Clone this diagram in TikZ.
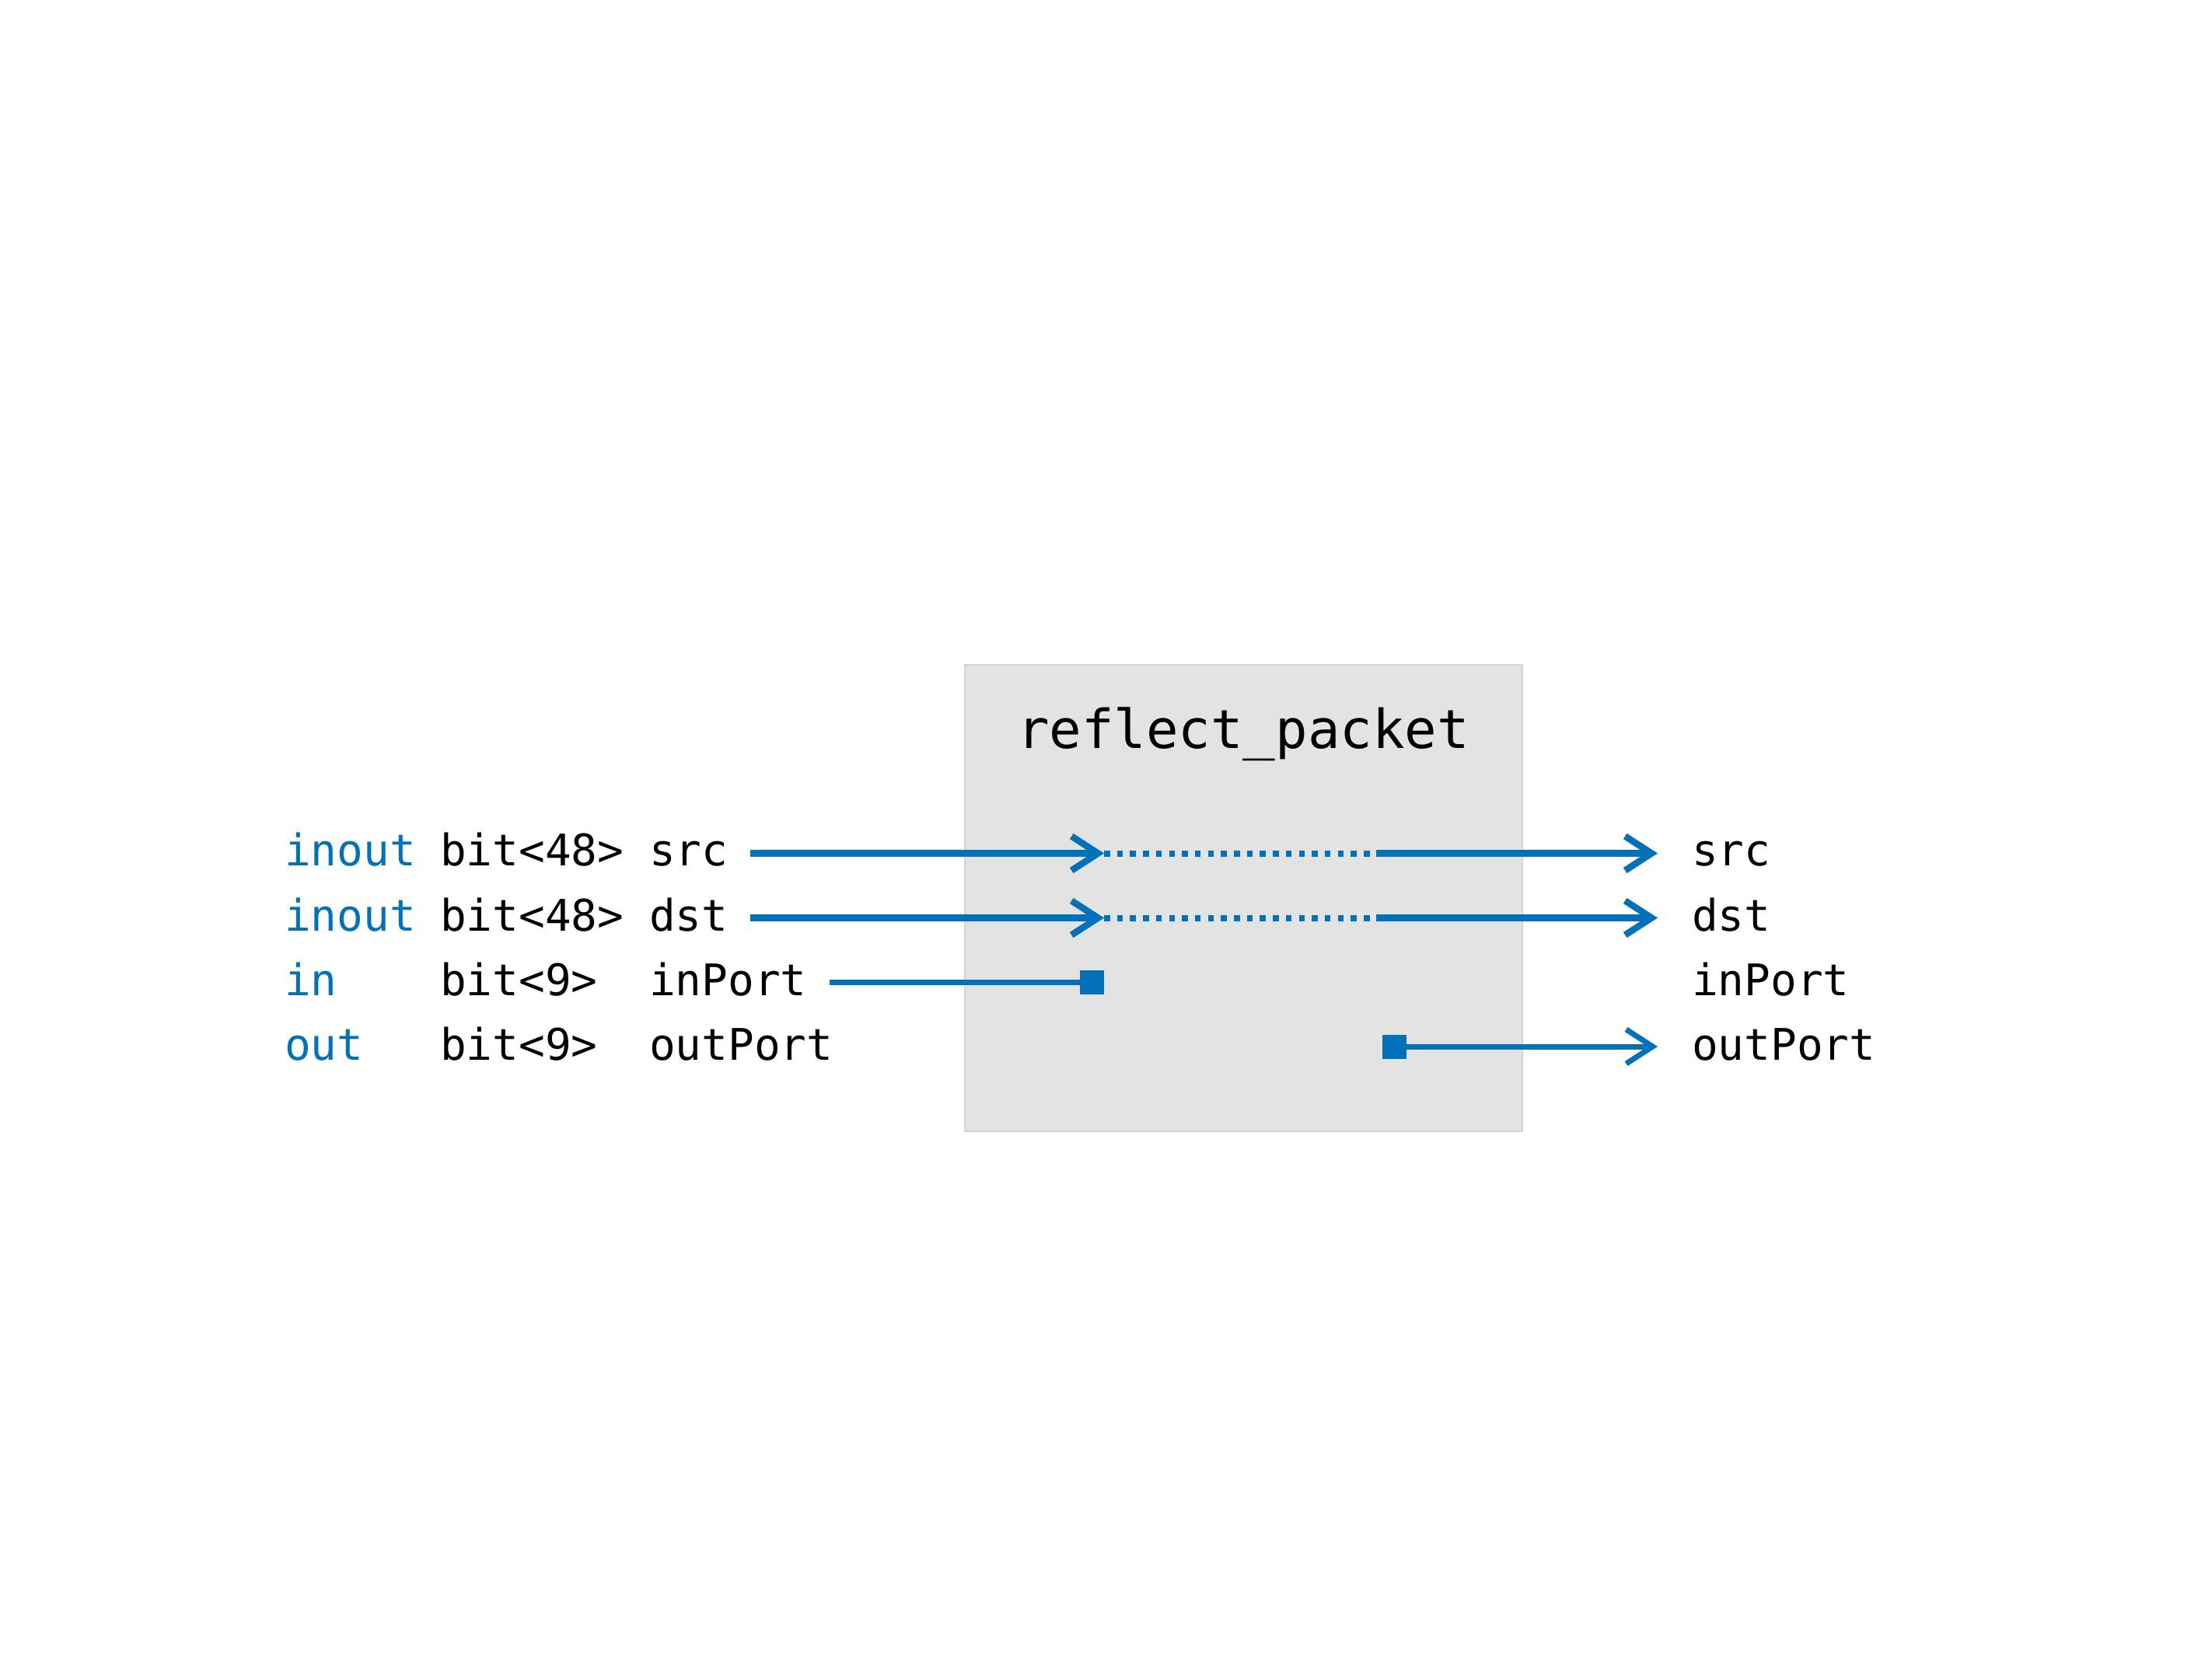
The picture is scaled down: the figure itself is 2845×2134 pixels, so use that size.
\documentclass[tikz,border=0pt]{standalone}
\usepackage{fontspec}
\setmonofont{DejaVu Sans Mono}
\usetikzlibrary{arrows.meta}
\definecolor{wireblue}{RGB}{0,114,187}
\definecolor{boxfill}{RGB}{227,227,227}
\definecolor{boxline}{RGB}{212,212,212}
\tikzset{
  lbl/.style={anchor=base west, inner sep=0pt, font=\ttfamily\fontsize{56pt}{60pt}\selectfont, text=black},
  kindlbl/.style={lbl, text=wireblue},
  titlelbl/.style={anchor=base, inner sep=0pt, font=\ttfamily\fontsize{69pt}{75pt}\selectfont, text=black},
  blockbox/.style={draw=boxline, fill=boxfill, line width=2pt, inner sep=0pt},
  portsq/.style={fill=wireblue, draw=none, inner sep=0pt, minimum size=31pt},
  wire/.style={draw=wireblue, line width=8.5pt},
  thinwire/.style={draw=wireblue, line width=7pt},
  dotwire/.style={draw=wireblue, line width=8pt, dash pattern=on 7.5pt off 9.2pt},
  barb/.style={-{Straight Barb[length=34pt,width=44pt]}}
}
\begin{document}
\begin{tikzpicture}[x=1pt,y=-1pt]
\useasboundingbox (0,0) rectangle (2845,2134);
% block
\node[blockbox, minimum width=717pt, minimum height=600pt] (box) at (1599,1154.5) {};
\node[titlelbl] (title) at (1599,962) {reflect\_packet};
% left declarations
\node[kindlbl] (k1) at (366,1113.5) {inout};
\node[lbl] (t1) at (566,1113.5) {bit<48>};
\node[lbl] (n1) at (835,1113.5) {src};
\node[kindlbl] (k2) at (366,1197) {inout};
\node[lbl] (t2) at (566,1197) {bit<48>};
\node[lbl] (n2) at (835,1197) {dst};
\node[kindlbl] (k3) at (366,1280) {in};
\node[lbl] (t3) at (566,1280) {bit<9>};
\node[lbl] (n3) at (835,1280) {inPort};
\node[kindlbl] (k4) at (366,1363) {out};
\node[lbl] (t4) at (566,1363) {bit<9>};
\node[lbl] (n4) at (835,1363) {outPort};
% right labels
\node[lbl] (r1) at (2176,1113.5) {src};
\node[lbl] (r2) at (2176,1197) {dst};
\node[lbl] (r3) at (2176,1280) {inPort};
\node[lbl] (r4) at (2176,1363) {outPort};
% ports
\node[portsq] (sq3) at (1404.5,1263) {};
\node[portsq] (sq4) at (1793,1346) {};
% coordinates
\coordinate (s1) at (965,1097.5);
\coordinate (m1) at (1420,1097.5);
\coordinate (d1) at (1762,1097.5);
\coordinate (e1) at (1770,1097.5);
\coordinate (o1) at (2132,1097.5);
\coordinate (s2) at (965,1180.5);
\coordinate (m2) at (1420,1180.5);
\coordinate (d2) at (1762,1180.5);
\coordinate (e2) at (1770,1180.5);
\coordinate (o2) at (2132,1180.5);
\coordinate (s3) at (1067,1263);
\coordinate (o4) at (2132,1346);
% connectors
\draw[wire, barb] (s1) -- (m1);
\draw[dotwire] (m1) -- (d1);
\draw[wire, barb] (e1) -- (o1);
\draw[wire, barb] (s2) -- (m2);
\draw[dotwire] (m2) -- (d2);
\draw[wire, barb] (e2) -- (o2);
\draw[thinwire] (s3) -- (sq3.west);
\draw[thinwire, barb] (sq4.east) -- (o4);
\end{tikzpicture}
\end{document}
